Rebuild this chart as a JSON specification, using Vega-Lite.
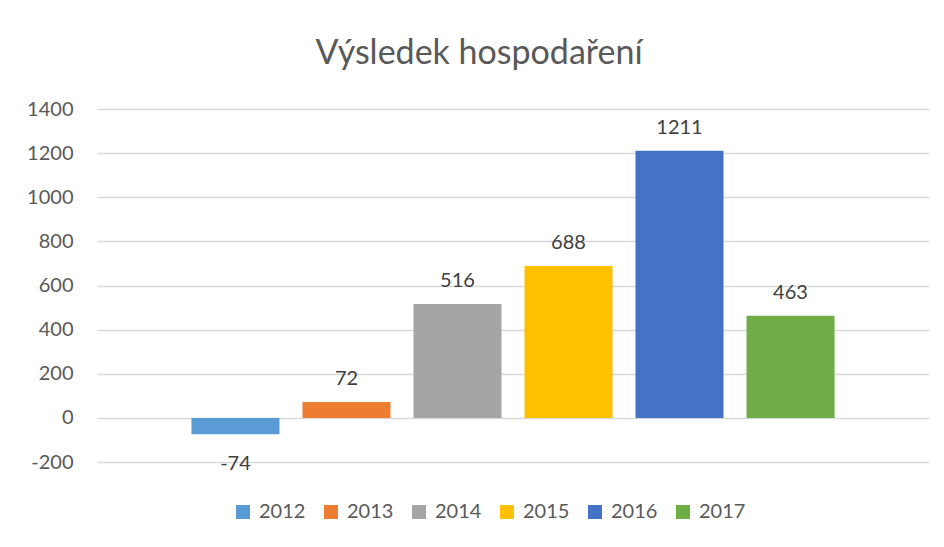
{
  "$schema": "https://vega.github.io/schema/vega-lite/v6.json",
  "autosize": "none",
  "width": 832,
  "height": 353,
  "padding": {"left": 97, "top": 109, "right": 15, "bottom": 85},
  "background": "white",
  "config": {
    "view": {"stroke": null},
    "font": "Lato",
    "axis": {"labelFont": "Lato", "labelColor": "#595959"},
    "legend": {"labelFont": "Lato", "labelColor": "#595959"}
  },
  "title": {
    "text": "Výsledek hospodaření",
    "font": "Lato",
    "fontSize": 34,
    "fontWeight": "normal",
    "color": "#595959",
    "anchor": "middle",
    "frame": "group",
    "dx": -34,
    "offset": 28
  },
  "data": {
    "values": [
      {"year": "2012", "value": -74},
      {"year": "2013", "value": 72},
      {"year": "2014", "value": 516},
      {"year": "2015", "value": 688},
      {"year": "2016", "value": 1211},
      {"year": "2017", "value": 463}
    ]
  },
  "encoding": {
    "x": {
      "field": "year",
      "type": "nominal",
      "axis": null,
      "scale": {"paddingInner": 0.207, "paddingOuter": 0.851}
    },
    "y": {
      "field": "value",
      "type": "quantitative",
      "scale": {"domain": [-200, 1400], "nice": false, "zero": false},
      "axis": {
        "title": null,
        "values": [-200, 0, 200, 400, 600, 800, 1000, 1200, 1400],
        "labelExpr": "'' + datum.value",
        "domain": false,
        "ticks": false,
        "labelFontSize": 20,
        "labelPadding": 24,
        "gridColor": "#d9d9d9",
        "gridWidth": 1.3
      }
    }
  },
  "layer": [
    {
      "mark": {"type": "bar"},
      "encoding": {
        "color": {
          "field": "year",
          "type": "nominal",
          "scale": {
            "domain": ["2012", "2013", "2014", "2015", "2016", "2017"],
            "range": ["#5b9bd5", "#ed7d31", "#a5a5a5", "#ffc000", "#4472c4", "#70ad47"]
          },
          "legend": {
            "title": null,
            "orient": "none",
            "direction": "horizontal",
            "legendX": 136,
            "legendY": 393,
            "symbolType": "square",
            "symbolSize": 196,
            "symbolStrokeWidth": 0,
            "labelFontSize": 20,
            "labelOffset": 6,
            "columnPadding": 15
          }
        }
      }
    },
    {
      "transform": [{"filter": "datum.value >= 0"}],
      "mark": {"type": "text", "baseline": "bottom", "dy": -13, "fontSize": 20, "color": "#404040", "font": "Lato"},
      "encoding": {"text": {"field": "value", "type": "nominal"}}
    },
    {
      "transform": [{"filter": "datum.value < 0"}],
      "mark": {"type": "text", "baseline": "top", "dy": 20, "fontSize": 20, "color": "#404040", "font": "Lato"},
      "encoding": {"text": {"field": "value", "type": "nominal"}}
    }
  ]
}
